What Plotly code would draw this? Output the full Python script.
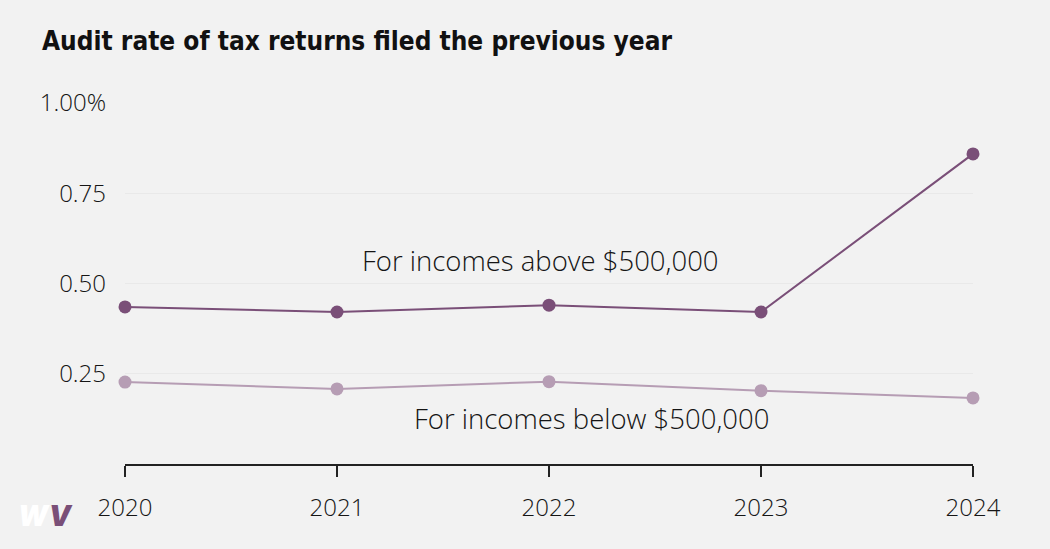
import plotly.graph_objects as go

# audit rates (%)
years = [2020, 2021, 2022, 2023, 2024]
above_500k = [0.435, 0.421, 0.440, 0.421, 0.859]
below_500k = [0.227, 0.208, 0.228, 0.203, 0.183]

ytick_vals = [0.25, 0.50, 0.75, 1.00]
ytick_text = ["0.25", "0.50", "0.75", "1.00%"]

dark = "#7a4f78"
light = "#b69db4"
bg = "#f2f2f2"
ink = "#151515"
body_font = "Open Sans"
title_font = "DejaVu Sans Condensed, Liberation Sans Narrow, Arial Narrow, sans-serif"

fig = go.Figure()
fig.add_trace(go.Scatter(x=years, y=below_500k, mode="lines+markers",
                         line=dict(color=light, width=2),
                         marker=dict(color=light, size=13),
                         cliponaxis=False, hoverinfo="skip"))
fig.add_trace(go.Scatter(x=years, y=above_500k, mode="lines+markers",
                         line=dict(color=dark, width=2),
                         marker=dict(color=dark, size=13),
                         cliponaxis=False, hoverinfo="skip"))

# series labels
fig.add_annotation(x=2021.96, y=0.565, text="For incomes above $500,000",
                   showarrow=False, font=dict(size=27.5, color=ink, family=body_font, weight=300))
fig.add_annotation(x=2022.2, y=0.127, text="For incomes below $500,000",
                   showarrow=False, font=dict(size=27.5, color=ink, family=body_font, weight=300))

# small logo bottom left
fig.add_annotation(xref="paper", yref="paper", x=-0.094, y=-0.144, xanchor="center", yanchor="middle",
                   text="<i><span style='color:#ffffff'>W</span><span style='color:%s'>V</span></i>" % dark,
                   showarrow=False, font=dict(size=28, family="Inter", weight=900))

fig.update_layout(
    width=1050, height=549,
    paper_bgcolor=bg, plot_bgcolor=bg,
    showlegend=False,
    margin=dict(l=125, r=77, t=103, b=85),
    title=dict(text="Audit rate of tax returns filed the previous year",
               x=0, xref="paper", xanchor="left", y=0.942, yref="container",
               font=dict(family=title_font, size=26, color="#111", weight="bold"),
               pad=dict(l=-83)),
    xaxis=dict(range=[2020, 2024], tickvals=years, ticktext=[str(y) for y in years],
               showgrid=False, zeroline=False, showline=True, linecolor="#222", linewidth=2,
               ticks="outside", ticklen=11, tickwidth=2, tickcolor="#222",
               ticklabelstandoff=10,
               tickfont=dict(size=24, color=ink, family=body_font, weight=300)),
    yaxis=dict(range=[0, 1.0], tickvals=ytick_vals, ticktext=ytick_text,
               showgrid=True, gridcolor="#e9e9e9", gridwidth=1, zeroline=False,
               showline=False, ticks="", ticklabelstandoff=18,
               tickfont=dict(size=24, color=ink, family=body_font, weight=300)),
)

# drop the default page margin so the figure sits at the window corner
fig.write_html("out.html", config={"displayModeBar": False},
               post_script="document.body.style.margin='0';")
